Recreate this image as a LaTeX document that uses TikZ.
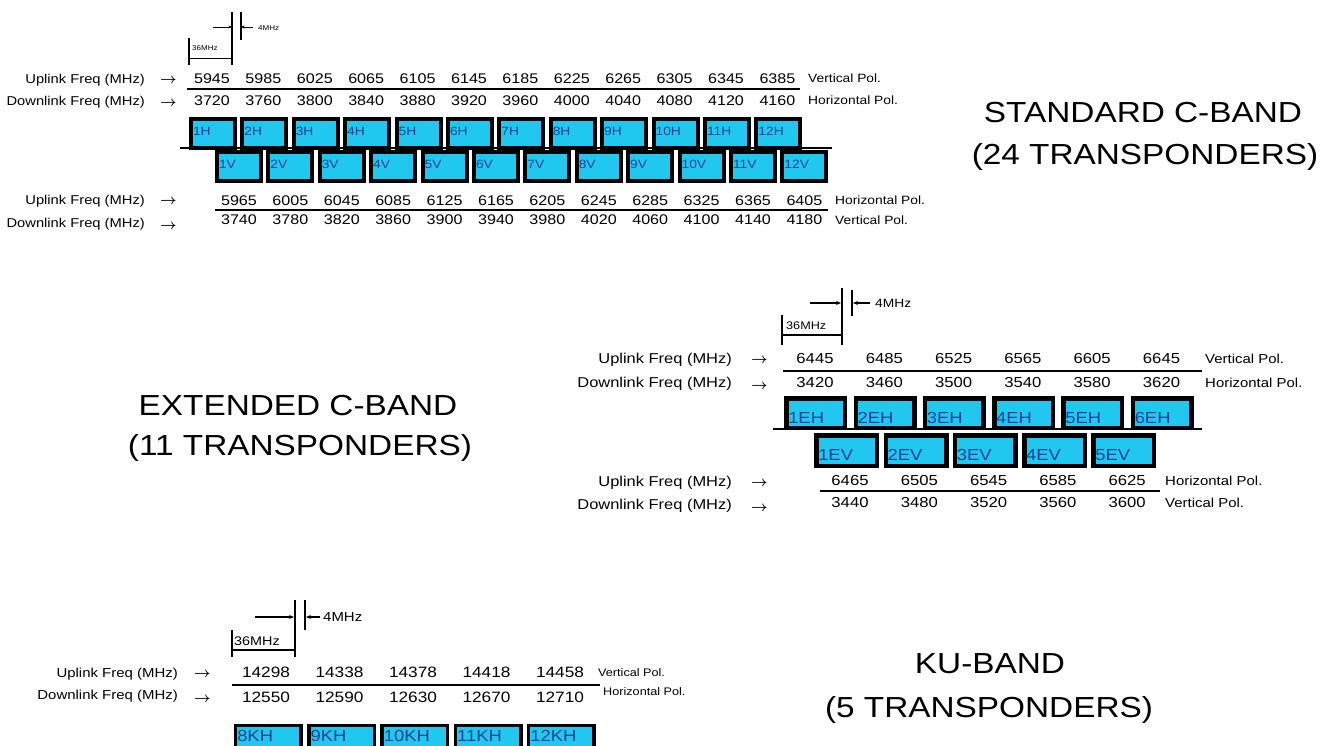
\documentclass[tikz,border=0pt]{standalone}
\usepackage{fontspec}
\setmainfont{Liberation Sans}[FakeStretch=1.15]
\usetikzlibrary{arrows.meta}
\definecolor{bcyan}{RGB}{32,200,240}
\definecolor{btext}{RGB}{25,65,150}
\newcommand{\fsz}[1]{\fontsize{#1}{#1}\selectfont}
\newcommand{\rarr}{{\boldmath\(\rightarrow\)}}
\begin{document}
\begin{tikzpicture}[x=1pt,y=-1pt,
  txt/.style={inner sep=0pt, anchor=base west},
  rtxt/.style={inner sep=0pt, anchor=base east},
  ctxt/.style={inner sep=0pt, anchor=base},
  rule/.style={line width=1.5pt},
  extline/.style={line width=2.4pt},
  dimarrow/.style={line width=1.1pt, -{Stealth[length=5pt,width=4pt]}},
  smallarrow/.style={line width=0.9pt, -{Stealth[length=3.5pt,width=3pt]}},
  boxbase/.style={draw=black, fill=bcyan, text=btext, anchor=north west, align=left},
  tbox/.style={boxbase, line width=4pt, text width=40pt, text height=14pt, text depth=11pt, inner xsep=2pt, inner ysep=2pt, font=\fsz{12}},
  ebox/.style={boxbase, line width=4.5pt, text width=55pt, text height=24pt, text depth=3.5pt, inner xsep=1.75pt, inner ysep=1pt, font=\fsz{16}},
  evbox/.style={boxbase, line width=4.5pt, text width=57pt, text height=24pt, text depth=4.5pt, inner xsep=1.75pt, inner ysep=1pt, font=\fsz{16}},
  kbox/.style={boxbase, line width=3.5pt, text width=62pt, text height=15.25pt, text depth=13.25pt, inner xsep=1.75pt, inner ysep=1pt, font=\fsz{16}},
  title/.style={inner sep=0pt, anchor=base, font=\fsz{29}},
  arr/.style={inner sep=0pt, anchor=base west, font=\fsz{15}}
]
\useasboundingbox (0,0) rectangle (1335,745);

% ================= STANDARD C-BAND =================
\coordinate (ta1) at (213,27); \coordinate (ta2) at (232,27);
\coordinate (ta3) at (253,27); \coordinate (ta4) at (241,27);
\coordinate (tv1a) at (232,12); \coordinate (tv1b) at (232,65);
\coordinate (tv2a) at (241,12); \coordinate (tv2b) at (241,40);
\coordinate (tb1a) at (189,38); \coordinate (tb1b) at (189,65);
\coordinate (tb2a) at (189,58); \coordinate (tb2b) at (232,58);
\draw[smallarrow] (ta1) -- (ta2);
\draw[smallarrow] (ta3) -- (ta4);
\draw[line width=1.6pt] (tv1a) -- (tv1b);
\draw[line width=1.6pt] (tv2a) -- (tv2b);
\draw[line width=1.6pt] (tb1a) -- (tb1b);
\draw[line width=1pt] (tb2a) -- (tb2b);
\node[txt, font=\fsz{7}] (t4m) at (258,30) {4MHz};
\node[txt, font=\fsz{7}] (t36m) at (192,50) {36MHz};

\node[rtxt, font=\fsz{12.8}] (tul) at (145,83) {Uplink Freq (MHz)};
\node[arr] (tula) at (160,83) {\rarr};
\node[rtxt, font=\fsz{12.8}] (tdl) at (145,105) {Downlink Freq (MHz)};
\node[arr] (tdla) at (160,106) {\rarr};
\node[rtxt, font=\fsz{12.8}] (tul2) at (145,204) {Uplink Freq (MHz)};
\node[arr] (tula2) at (160,204) {\rarr};
\node[rtxt, font=\fsz{12.8}] (tdl2) at (145,227) {Downlink Freq (MHz)};
\node[arr] (tdla2) at (160,229) {\rarr};

\foreach \v [count=\i from 0] in {5945,5985,6025,6065,6105,6145,6185,6225,6265,6305,6345,6385}
  \node[ctxt, font=\fsz{14}] (tu\i) at ({212+51.4*\i},83.3) {\v};
\foreach \v [count=\i from 0] in {3720,3760,3800,3840,3880,3920,3960,4000,4040,4080,4120,4160}
  \node[ctxt, font=\fsz{14}] (td\i) at ({212+51.4*\i},105.3) {\v};
\coordinate (tr1a) at (187,89); \coordinate (tr1b) at (800,89);
\draw[rule] (tr1a) -- (tr1b);
\node[txt, font=\fsz{12}] (tvp) at (808,82.5) {Vertical Pol.};
\node[txt, font=\fsz{12}] (thp) at (808,104.5) {Horizontal Pol.};

\foreach \v [count=\i from 0] in {1H,2H,3H,4H,5H,6H,7H,8H,9H,10H,11H,12H}
  \node[tbox] (th\i) at ({189+51.4*\i},117) {\v};
\coordinate (tmla) at (180,148); \coordinate (tmlb) at (832,148);
\draw[line width=2pt] (tmla) -- (tmlb);
\foreach \v [count=\i from 0] in {1V,2V,3V,4V,5V,6V,7V,8V,9V,10V,11V,12V}
  \node[tbox] (tvb\i) at ({215+51.4*\i},150) {\v};

\foreach \v [count=\i from 0] in {5965,6005,6045,6085,6125,6165,6205,6245,6285,6325,6365,6405}
  \node[ctxt, font=\fsz{14}] (tlu\i) at ({239+51.4*\i},205) {\v};
\foreach \v [count=\i from 0] in {3740,3780,3820,3860,3900,3940,3980,4020,4060,4100,4140,4180}
  \node[ctxt, font=\fsz{14}] (tld\i) at ({239+51.4*\i},224.5) {\v};
\coordinate (tr2a) at (215,210); \coordinate (tr2b) at (828,210);
\draw[rule] (tr2a) -- (tr2b);
\node[txt, font=\fsz{12}] (thp2) at (835,204) {Horizontal Pol.};
\node[txt, font=\fsz{12}] (tvp2) at (835,224) {Vertical Pol.};

\node[title] (stt1) at (1143,122) {STANDARD C-BAND};
\node[title] (stt2) at (1145,164) {(24 TRANSPONDERS)};

% ================= EXTENDED C-BAND =================
\coordinate (ea1) at (810,303); \coordinate (ea2) at (841,303);
\coordinate (ea3) at (870,303); \coordinate (ea4) at (853,303);
\coordinate (ev1a) at (842,288); \coordinate (ev1b) at (842,345);
\coordinate (ev2a) at (852,290); \coordinate (ev2b) at (852,316);
\coordinate (eb1a) at (782,315); \coordinate (eb1b) at (782,345);
\coordinate (eb2a) at (782,335); \coordinate (eb2b) at (842,335);
\draw[dimarrow] (ea1) -- (ea2);
\draw[dimarrow] (ea3) -- (ea4);
\draw[extline] (ev1a) -- (ev1b);
\draw[line width=1.6pt] (ev2a) -- (ev2b);
\draw[extline] (eb1a) -- (eb1b);
\draw[line width=1.3pt] (eb2a) -- (eb2b);
\node[txt, font=\fsz{12}] (e4m) at (875,307.5) {4MHz};
\node[txt, font=\fsz{11}] (e36m) at (786,329) {36MHz};

\node[rtxt, font=\fsz{14.3}] (eul) at (732,363) {Uplink Freq (MHz)};
\node[arr] (eula) at (751,363) {\rarr};
\node[rtxt, font=\fsz{14.3}] (edl) at (732,387) {Downlink Freq (MHz)};
\node[arr] (edla) at (751,389) {\rarr};
\node[rtxt, font=\fsz{14.3}] (eul2) at (732,486) {Uplink Freq (MHz)};
\node[arr] (eula2) at (751,486) {\rarr};
\node[rtxt, font=\fsz{14.3}] (edl2) at (732,509) {Downlink Freq (MHz)};
\node[arr] (edla2) at (751,511) {\rarr};

\foreach \v [count=\i from 0] in {6445,6485,6525,6565,6605,6645}
  \node[ctxt, font=\fsz{14.5}] (eu\i) at ({815+69.3*\i},363.3) {\v};
\foreach \v [count=\i from 0] in {3420,3460,3500,3540,3580,3620}
  \node[ctxt, font=\fsz{14.5}] (ed\i) at ({815+69.3*\i},387) {\v};
\coordinate (er1a) at (783,371); \coordinate (er1b) at (1202,371);
\draw[rule] (er1a) -- (er1b);
\node[txt, font=\fsz{13}] (evp) at (1205,363) {Vertical Pol.};
\node[txt, font=\fsz{13}] (ehp) at (1205,387) {Horizontal Pol.};

\foreach \v [count=\i from 0] in {1EH,2EH,3EH,4EH,5EH,6EH}
  \node[ebox] (eh\i) at ({784.25+69.3*\i},396.25) {\v};
\coordinate (emla) at (773,429); \coordinate (emlb) at (1202,429);
\draw[line width=2pt] (emla) -- (emlb);
\foreach \v [count=\i from 0] in {1EV,2EV,3EV,4EV,5EV}
  \node[evbox] (evb\i) at ({814.25+69.3*\i},433.25) {\v};

\foreach \v [count=\i from 0] in {6465,6505,6545,6585,6625}
  \node[ctxt, font=\fsz{14.5}] (elu\i) at ({850+69.3*\i},485) {\v};
\foreach \v [count=\i from 0] in {3440,3480,3520,3560,3600}
  \node[ctxt, font=\fsz{14.5}] (eld\i) at ({850+69.3*\i},507) {\v};
\coordinate (er2a) at (820,491); \coordinate (er2b) at (1160,491);
\draw[rule] (er2a) -- (er2b);
\node[txt, font=\fsz{13}] (ehp2) at (1165,485) {Horizontal Pol.};
\node[txt, font=\fsz{13}] (evp2) at (1165,507) {Vertical Pol.};

\node[title] (ett1) at (298,415) {EXTENDED C-BAND};
\node[title] (ett2) at (300,455) {(11 TRANSPONDERS)};

% ================= KU-BAND =================
\coordinate (ka1) at (255,617); \coordinate (ka2) at (294,617);
\coordinate (ka3) at (320,617); \coordinate (ka4) at (306,617);
\coordinate (kv1a) at (295,600); \coordinate (kv1b) at (295,657);
\coordinate (kv2a) at (305,600); \coordinate (kv2b) at (305,630);
\coordinate (kb1a) at (232,630); \coordinate (kb1b) at (232,657);
\coordinate (kb2a) at (232,650); \coordinate (kb2b) at (295,650);
\draw[dimarrow] (ka1) -- (ka2);
\draw[dimarrow] (ka3) -- (ka4);
\draw[line width=1.6pt] (kv1a) -- (kv1b);
\draw[extline] (kv2a) -- (kv2b);
\draw[extline] (kb1a) -- (kb1b);
\draw[line width=1.3pt] (kb2a) -- (kb2b);
\node[txt, font=\fsz{13}] (k4m) at (323,621.5) {4MHz};
\node[txt, font=\fsz{12.5}] (k36m) at (234,645.5) {36MHz};

\node[rtxt, font=\fsz{13}] (kul) at (178,677) {Uplink Freq (MHz)};
\node[arr] (kula) at (194,677) {\rarr};
\node[rtxt, font=\fsz{13}] (kdl) at (178,699) {Downlink Freq (MHz)};
\node[arr] (kdla) at (194,702) {\rarr};

\foreach \v [count=\i from 0] in {14298,14338,14378,14418,14458}
  \node[ctxt, font=\fsz{15}] (ku\i) at ({266+73.5*\i},677.4) {\v};
\foreach \v [count=\i from 0] in {12550,12590,12630,12670,12710}
  \node[ctxt, font=\fsz{15}] (kd\i) at ({266+73.5*\i},702.4) {\v};
\coordinate (kr1a) at (232,685); \coordinate (kr1b) at (600,685);
\draw[rule] (kr1a) -- (kr1b);
\node[txt, font=\fsz{11}] (kvp) at (598,676) {Vertical Pol.};
\node[txt, font=\fsz{11}] (khp) at (603,695) {Horizontal Pol.};

\foreach \v [count=\i from 0] in {8KH,9KH,10KH,11KH,12KH}
  \node[kbox] (kh\i) at ({233.75+73.3*\i},723.75) {\v};

\node[title] (ktt1) at (990,673) {KU-BAND};
\node[title] (ktt2) at (989,717) {(5 TRANSPONDERS)};
\end{tikzpicture}
\end{document}
